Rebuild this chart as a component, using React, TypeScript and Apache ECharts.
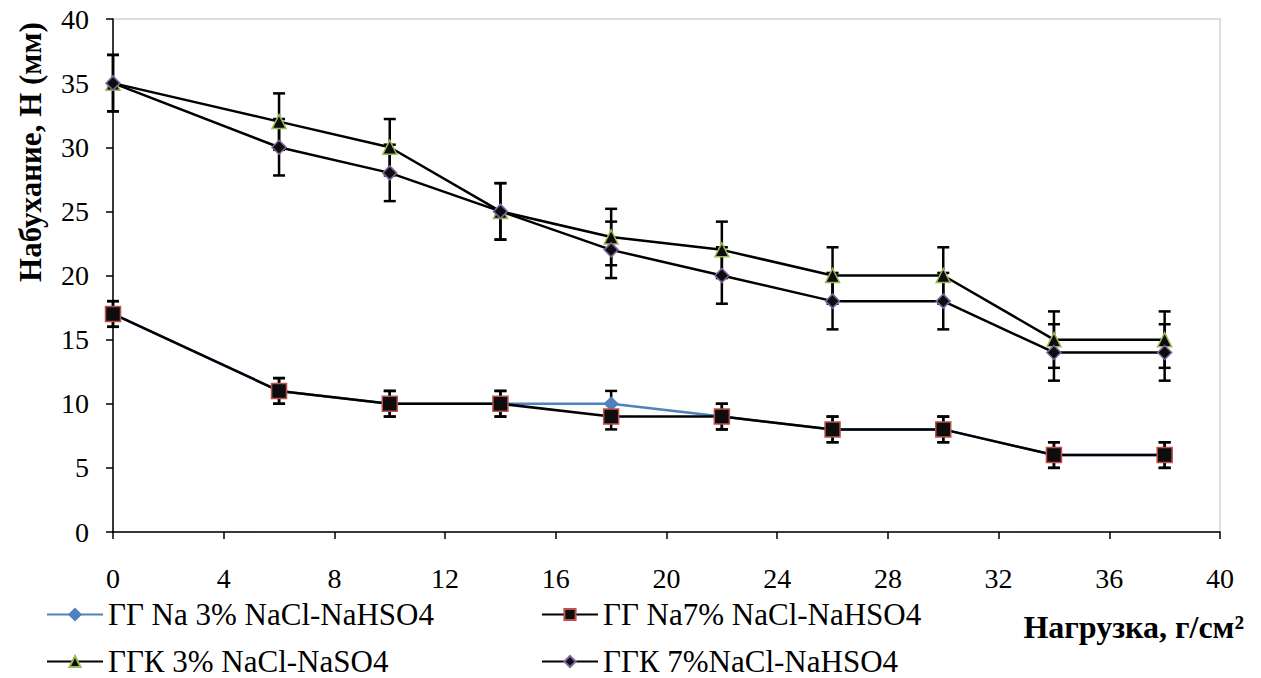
import React, { useEffect, useRef } from "react";
import * as echarts from "echarts";

const xValues = [0, 6, 10, 14, 18, 22, 26, 30, 34, 38];
const gg3 = [17, 11, 10, 10, 10, 9, 8, 8, 6, 6];
const gg7 = [17, 11, 10, 10, 9, 9, 8, 8, 6, 6];
const ggk3 = [35, 32, 30, 25, 23, 22, 20, 20, 15, 15];
const ggk7 = [35, 30, 28, 25, 22, 20, 18, 18, 14, 14];
const errGG = 1;
const errGGK = 2.2;

const names = [
  "ГГ Na 3% NaCl-NaHSO4",
  "ГГ Na7% NaCl-NaHSO4",
  "ГГК 3% NaCl-NaSO4",
  "ГГК 7%NaCl-NaHSO4",
];

const FONT = "Liberation Serif";

function pairs(ys: number[]) {
  return xValues.map((x, i) => [x, ys[i]]);
}
function errs(ys: number[], e: number) {
  return xValues.map((x, i) => [x, ys[i] - e, ys[i] + e]);
}

function errorSeries(name: string, data: number[][]) {
  return {
    type: "custom",
    name: name + " err",
    z: 1,
    data,
    encode: { x: 0, y: [1, 2] },
    renderItem: (params: any, api: any) => {
      const x = api.value(0);
      const lo = api.coord([x, api.value(1)]);
      const hi = api.coord([x, api.value(2)]);
      const hw = 6;
      const style = { stroke: "#000", lineWidth: 2.5 };
      return {
        type: "group",
        children: [
          { type: "line", shape: { x1: lo[0], y1: lo[1], x2: hi[0], y2: hi[1] }, style },
          { type: "line", shape: { x1: lo[0] - hw, y1: lo[1], x2: lo[0] + hw, y2: lo[1] }, style },
          { type: "line", shape: { x1: hi[0] - hw, y1: hi[1], x2: hi[0] + hw, y2: hi[1] }, style },
        ],
      };
    },
  };
}

export default function App() {
  const ref = useRef<HTMLDivElement>(null);
  useEffect(() => {
    if (!ref.current) return;
    const chart = echarts.init(ref.current, undefined, { renderer: "svg" });
    const lineSeries = (
      name: string,
      ys: number[],
      symbol: string,
      size: number,
      fill: string,
      border: string,
      lineColor: string
    ) => ({
      type: "line",
      name,
      z: 3,
      data: pairs(ys),
      symbol,
      symbolSize: size,
      showAllSymbol: true,
      itemStyle: { color: fill, borderColor: border, borderWidth: 1.5 },
      lineStyle: { color: lineColor, width: 2.5 },
      emphasis: { disabled: true },
    });
    const legendBase = {
      orient: "vertical",
      top: 599,
      height: 90,
      padding: 0,
      itemWidth: 56,
      itemHeight: 14,
      itemGap: 16,
      textStyle: { color: "#000", fontFamily: FONT, fontSize: 31 },
      selectedMode: false,
    };
    chart.setOption({
      animation: false,
      backgroundColor: "#fff",
      grid: {
        left: 113,
        right: 41,
        top: 19,
        bottom: 146,
        show: true,
        borderColor: "#d4d4d4",
        borderWidth: 1.5,
      },
      xAxis: {
        type: "value",
        min: 0,
        max: 40,
        interval: 4,
        axisLine: { show: true, onZero: false, lineStyle: { color: "#000", width: 1.5 } },
        axisTick: { show: true, inside: false, length: 7, lineStyle: { color: "#000", width: 1.5 } },
        splitLine: { show: false },
        axisLabel: { color: "#000", fontFamily: FONT, fontSize: 28, margin: 32 },
      },
      yAxis: {
        type: "value",
        min: 0,
        max: 40,
        interval: 5,
        axisLine: { show: true, onZero: false, lineStyle: { color: "#000", width: 1.5 } },
        axisTick: { show: true, inside: false, length: 7, lineStyle: { color: "#000", width: 1.5 } },
        splitLine: { show: false },
        axisLabel: { color: "#000", fontFamily: FONT, fontSize: 28, margin: 24 },
      },
      legend: [
        { ...legendBase, left: 46, data: [names[0], names[2]] },
        { ...legendBase, left: 541, data: [names[1], names[3]] },
      ],
      graphic: [
        {
          type: "text",
          x: 30,
          y: 152,
          rotation: Math.PI / 2,
          style: {
            text: "Набухание, Н (мм)",
            fontFamily: FONT,
            fontWeight: "bold",
            fontSize: 31,
            fill: "#000",
            textAlign: "center",
            textVerticalAlign: "middle",
          },
        },
        {
          type: "text",
          x: 1244,
          y: 627,
          style: {
            text: "Нагрузка, г/см²",
            fontFamily: FONT,
            fontWeight: "bold",
            fontSize: 32,
            fill: "#000",
            textAlign: "right",
            textVerticalAlign: "middle",
          },
        },
      ],
      series: [
        errorSeries(names[0], errs(gg3, errGG)),
        errorSeries(names[1], errs(gg7, errGG)),
        errorSeries(names[2], errs(ggk3, errGGK)),
        errorSeries(names[3], errs(ggk7, errGGK)),
        lineSeries(names[0], gg3, "diamond", 13, "#4f81bd", "#4f81bd", "#4f81bd"),
        lineSeries(names[1], gg7, "rect", 15, "#0d0d0d", "#c0504d", "#000"),
        lineSeries(names[2], ggk3, "triangle", 14, "#0d0d0d", "#9bbb59", "#000"),
        lineSeries(names[3], ggk7, "diamond", 14, "#0d0d0d", "#8064a2", "#000"),
      ],
    });
    return () => chart.dispose();
  }, []);
  return (
    <div
      ref={ref}
      style={{ position: "fixed", left: 0, top: 0, width: 1261, height: 678 }}
    />
  );
}
